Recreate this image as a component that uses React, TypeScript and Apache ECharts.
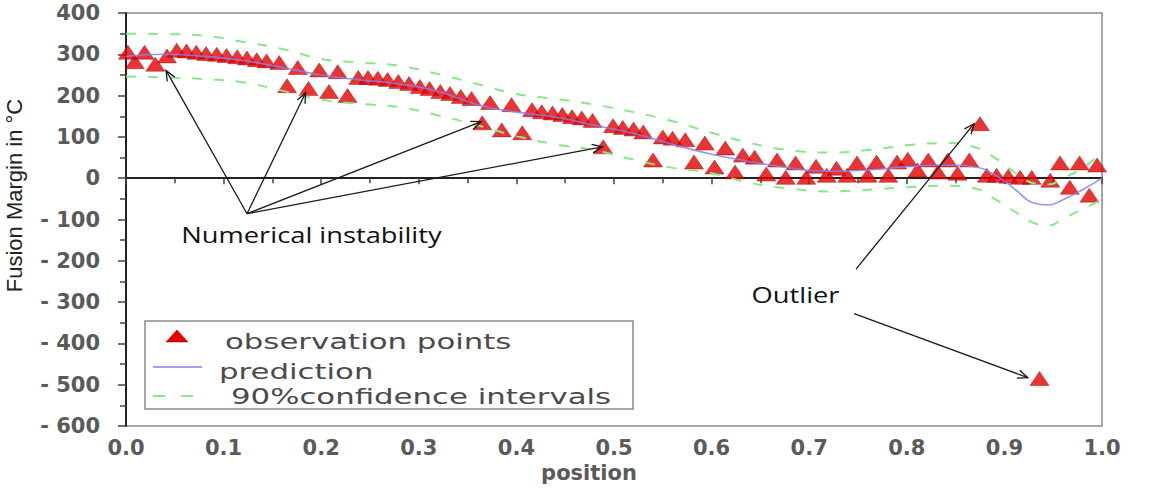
import React, { useEffect, useRef } from "react";
import * as echarts from "echarts";

// observation points (position, fusion margin)
const OBS_X = [
  0.002, 0.009, 0.019, 0.03, 0.042, 0.052, 0.062, 0.072, 0.082, 0.093, 0.103, 0.114, 0.124, 0.134, 0.144, 0.157,
  0.165, 0.176, 0.187, 0.198, 0.208, 0.217, 0.227, 0.238, 0.248, 0.258, 0.268, 0.279, 0.29, 0.301, 0.311, 0.322,
  0.332, 0.343, 0.354, 0.365, 0.373, 0.385, 0.395, 0.406, 0.416, 0.426, 0.437, 0.447, 0.457, 0.467, 0.478, 0.489,
  0.499, 0.509, 0.52, 0.53, 0.54, 0.55, 0.56, 0.573, 0.582, 0.593, 0.603, 0.614, 0.624, 0.632, 0.644, 0.656,
  0.667, 0.676, 0.686, 0.697, 0.707, 0.718, 0.728, 0.739, 0.749, 0.76, 0.769, 0.781, 0.79, 0.801, 0.811, 0.822,
  0.832, 0.842, 0.852, 0.864, 0.875, 0.882, 0.892, 0.904, 0.916, 0.928, 0.936, 0.947, 0.957, 0.967, 0.977, 0.987,
  0.995,
];
const OBS_Y = [
  305, 282, 305, 276, 296, 310, 308, 305, 302, 300, 297, 294, 291, 287, 284, 280,
  224, 268, 217, 262, 210, 258, 200, 244, 244, 242, 239, 234, 229, 222, 217, 210,
  205, 198, 193, 134, 183, 117, 178, 110, 166, 161, 158, 154, 149, 146, 140, 76,
  127, 123, 119, 112, 44, 100, 97, 93, 39, 85, 27, 73, 15, 56, 51, 10,
  44, 2, 37, 2, 29, 7, 24, 7, 37, 7, 39, 7, 39, 46, 20, 44,
  15, 44, 12, 44, 132, 7, 7, 5, 2, 2, -485, -5, 37, -22, 37, -41,
  32,
];

// prediction and 90% confidence interval curves
const CURVE_X = [
  0, 0.04, 0.08, 0.12, 0.16, 0.2, 0.24, 0.28, 0.32, 0.36, 0.4, 0.44, 0.48, 0.52, 0.56, 0.6,
  0.64, 0.68, 0.72, 0.76, 0.8, 0.84, 0.87, 0.89, 0.91, 0.93, 0.945, 0.96, 0.98, 1.0,
];
const PRED_Y = [
  295, 300, 295, 285, 268, 250, 238, 228, 210, 178, 160, 148, 128, 108, 82, 58,
  40, 25, 17, 20, 28, 32, 27, 8, -25, -60, -65, -52, -28, 0,
];
const UPPER_Y = [
  350, 349, 345, 330, 313, 289, 280, 272, 252, 228, 204, 192, 178, 160, 138, 110,
  85, 68, 62, 68, 80, 85, 75, 50, 15, -12, -15, 0, 25, 60,
];
const LOWER_Y = [
  246, 244, 240, 232, 212, 190, 180, 172, 152, 128, 102, 82, 68, 45, 25, 12,
  -12, -25, -32, -28, -22, -18, -25, -50, -80, -108, -115, -98, -75, -52,
];

const SERIES_NAMES = ["observation points", "prediction", "90%confidence intervals"];

// annotation anchors in data coordinates
const INSTAB_ORIGIN = [0.124, -86];
const INSTAB_TIPS = [
  [0.041, 261],
  [0.184, 207],
  [0.364, 137],
  [0.488, 76],
];
const INSTAB_LABEL = [0.19, -136];
const OUTLIER_LABEL = [0.686, -283];
const OUTLIER_ARROWS = [
  [[0.748, -220], [0.869, 132]],
  [[0.746, -328], [0.924, -483]],
];

const Y_TICK_FMT = (v: number) => (v < 0 ? "- " + Math.abs(v) : String(v));

const RED = "#e60000";
const BLUE = "#8282f0";
const GREEN = "#86e886";

export default function App() {
  const ref = useRef<HTMLDivElement>(null);

  useEffect(() => {
    if (!ref.current) return;
    const chart = echarts.init(ref.current, null, { renderer: "svg" });
    const labelFont = {
      fontFamily: "DejaVu Sans",
      fontWeight: "bold" as const,
      fontSize: 21,
      color: "#5a5a5a",
    };
    chart.setOption({
      animation: false,
      backgroundColor: "#ffffff",
      grid: {
        left: 126,
        right: 60,
        top: 13,
        bottom: 63,
        outerBoundsMode: "none",
        containLabel: false,
        show: true,
        borderColor: "#8a8a8a",
        borderWidth: 1.5,
        backgroundColor: "transparent",
      },
      xAxis: {
        type: "value",
        min: 0,
        max: 1,
        interval: 0.1,
        name: "position",
        nameLocation: "middle",
        nameGap: 29,
        nameTextStyle: { ...labelFont, fontSize: 21, padding: [0, 50, 0, 0] },
        axisLine: { show: true, lineStyle: { color: "#222", width: 2 } },
        axisTick: { show: true, length: 6, lineStyle: { color: "#444", width: 1.5 } },
        minorTick: { show: true, splitNumber: 2, length: 5, lineStyle: { color: "#444", width: 1.5 } },
        splitLine: { show: false },
        axisLabel: { ...labelFont, margin: 11, formatter: (v: number) => v.toFixed(1) },
      },
      yAxis: {
        type: "value",
        min: -600,
        max: 400,
        interval: 100,
        name: "Fusion Margin in °C",
        nameLocation: "middle",
        nameGap: 101,
        nameTextStyle: {
          fontFamily: "Liberation Sans Narrow, Liberation Sans, sans-serif",
          fontSize: 22,
          color: "#222",
          padding: [0, 0, 0, 48],
        },
        axisLine: { show: true, lineStyle: { color: "#222", width: 2 } },
        axisTick: { show: true, length: 8, lineStyle: { color: "#444", width: 1.5 } },
        minorTick: { show: true, splitNumber: 2, length: 6, lineStyle: { color: "#444", width: 1.5 } },
        splitLine: { show: false },
        axisLabel: { ...labelFont, margin: 26, formatter: Y_TICK_FMT },
      },
      series: [
        {
          name: SERIES_NAMES[0],
          type: "scatter",
          symbol: "triangle",
          symbolSize: [19, 14],
          itemStyle: { color: RED, borderColor: "#8a0000", borderWidth: 0.5 },
          data: OBS_X.map((x, i) => [x, OBS_Y[i]]),
          z: 2,
        },
        {
          name: SERIES_NAMES[1],
          type: "line",
          smooth: true,
          showSymbol: false,
          symbol: "none",
          lineStyle: { color: BLUE, width: 1.6, opacity: 0.85 },
          itemStyle: { color: BLUE },
          data: CURVE_X.map((x, i) => [x, PRED_Y[i]]),
          z: 4,
        },
        {
          name: SERIES_NAMES[2],
          type: "line",
          smooth: true,
          showSymbol: false,
          symbol: "none",
          lineStyle: { color: GREEN, width: 2, type: [10, 12] },
          itemStyle: { color: GREEN },
          data: CURVE_X.map((x, i) => [x, UPPER_Y[i]]),
          z: 3,
        },
        {
          name: SERIES_NAMES[2],
          type: "line",
          smooth: true,
          showSymbol: false,
          symbol: "none",
          lineStyle: { color: GREEN, width: 2, type: [10, 12] },
          itemStyle: { color: GREEN },
          data: CURVE_X.map((x, i) => [x, LOWER_Y[i]]),
          z: 3,
        },
      ],
    });

    const px = (p: number[]) => chart.convertToPixel({ gridIndex: 0 }, p) as number[];
    const arrow = (from: number[], to: number[]) => {
      const a = px(from);
      const b = px(to);
      const ang = Math.atan2(b[1] - a[1], b[0] - a[0]);
      const L = 11;
      const s = 0.4;
      const h1 = [b[0] - L * Math.cos(ang - s), b[1] - L * Math.sin(ang - s)];
      const h2 = [b[0] - L * Math.cos(ang + s), b[1] - L * Math.sin(ang + s)];
      return [
        { type: "line", shape: { x1: a[0], y1: a[1], x2: b[0], y2: b[1] }, style: { stroke: "#1a1a1a", lineWidth: 1.3 }, z: 10 },
        { type: "polyline", shape: { points: [h1, b, h2] }, style: { stroke: "#1a1a1a", lineWidth: 1.3, fill: "none" }, z: 10 },
      ];
    };
    const g: any[] = [];
    INSTAB_TIPS.forEach((t) => g.push(...arrow(INSTAB_ORIGIN, t)));
    OUTLIER_ARROWS.forEach(([f, t]) => g.push(...arrow(f, t)));
    const il = px(INSTAB_LABEL);
    const ol = px(OUTLIER_LABEL);
    const annoStyle = { fontFamily: "Open Sans", fontSize: 21, fill: "#111", align: "center", verticalAlign: "middle" };
    g.push({ type: "text", x: il[0], y: il[1], scaleX: 1.3, z: 10, style: { ...annoStyle, text: "Numerical instability" } });
    g.push({ type: "text", x: ol[0], y: ol[1], scaleX: 1.3, z: 10, style: { ...annoStyle, text: "Outlier" } });

    // legend box
    const legText = { fontFamily: "DejaVu Sans", fontSize: 22, fill: "#4a4a4a", align: "left", verticalAlign: "middle" };
    g.push(
      { type: "rect", shape: { x: 145, y: 321, width: 488, height: 88 }, style: { stroke: "#8a8a8a", lineWidth: 1.5, fill: "#fff" }, z: 20 },
      { type: "polygon", shape: { points: [[166, 342], [177, 330], [188, 342]] }, style: { fill: RED, stroke: "#8a0000", lineWidth: 0.5 }, z: 21 },
      { type: "text", x: 225, y: 341, scaleX: 1.4, z: 21, style: { ...legText, text: SERIES_NAMES[0] } },
      { type: "line", shape: { x1: 153, y1: 367, x2: 202, y2: 367 }, style: { stroke: BLUE, lineWidth: 1.6 }, z: 21 },
      { type: "text", x: 219, y: 371, scaleX: 1.4, z: 21, style: { ...legText, text: SERIES_NAMES[1] } },
      { type: "line", shape: { x1: 153, y1: 396, x2: 198, y2: 396 }, style: { stroke: GREEN, lineWidth: 2, lineDash: [12, 16] }, z: 21 },
      { type: "text", x: 231, y: 396, scaleX: 1.4, z: 21, style: { ...legText, text: SERIES_NAMES[2] } }
    );
    chart.setOption({ graphic: g });

    return () => chart.dispose();
  }, []);

  return (
    <div
      ref={ref}
      style={{ position: "absolute", left: 0, top: 0, width: 1162, height: 489 }}
    />
  );
}
